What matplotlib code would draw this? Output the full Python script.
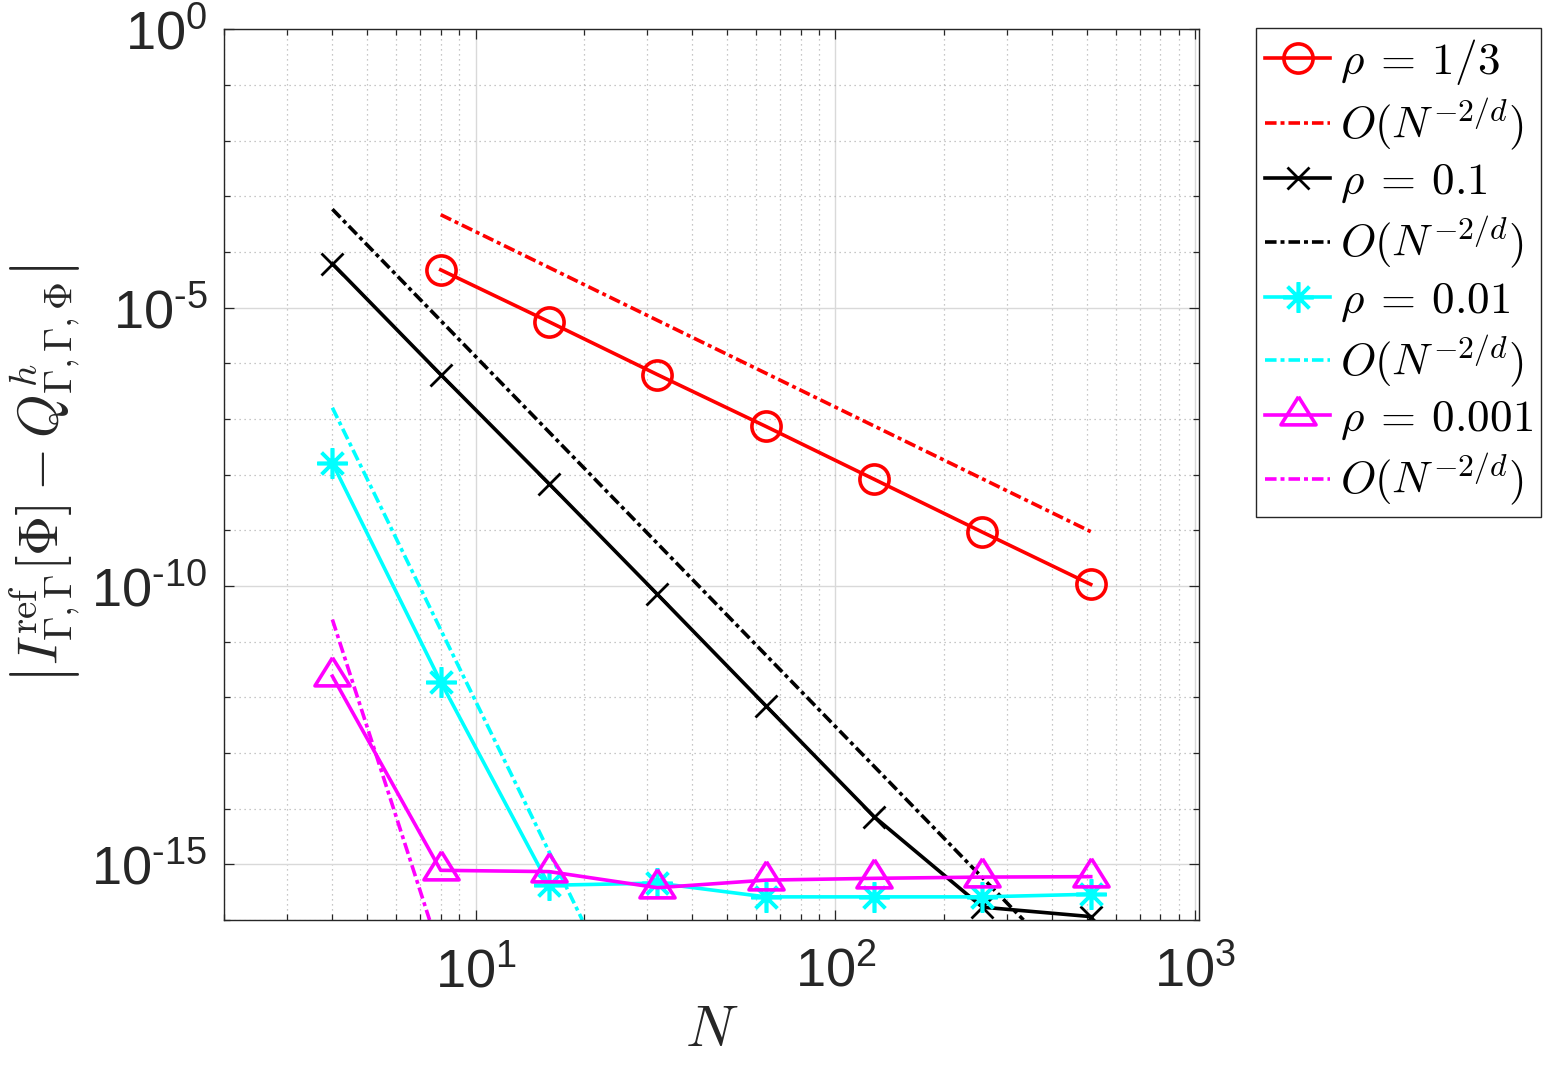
import numpy as np
import matplotlib
matplotlib.use('Agg')
import matplotlib.pyplot as plt
from matplotlib.font_manager import FontProperties
from matplotlib.ticker import FixedLocator, FixedFormatter, NullFormatter

plt.rcParams['font.family'] = ['Liberation Sans', 'DejaVu Sans']
plt.rcParams['mathtext.fontset'] = 'custom'
plt.rcParams['mathtext.rm'] = 'Liberation Sans'
plt.rcParams['mathtext.it'] = 'Liberation Sans:italic'
plt.rcParams['mathtext.bf'] = 'Liberation Sans:bold'

# data
N_all = [4, 8, 16, 32, 64, 128, 256, 512]
N_red = [8, 16, 32, 64, 128, 256, 512]

err_rho_third = [4.8e-5, 5.6e-6, 6.3e-7, 7.4e-8, 8.3e-9, 9.3e-10, 1.07e-10]
err_rho_01 = [6.2e-5, 6.3e-7, 6.9e-9, 7.1e-11, 7.1e-13, 7.2e-15, 1.7e-16, 1.15e-16]
err_rho_001 = [1.62e-8, 1.9e-12, 4.2e-16, 4.6e-16, 2.6e-16, 2.6e-16, 2.6e-16, 2.9e-16]
err_rho_0001 = [2.4e-12, 7.8e-16, 7.4e-16, 3.8e-16, 5.2e-16, 5.6e-16, 5.9e-16, 6.0e-16]

# reference rate lines (start / end points)
ref_red_N = [8, 512]
ref_red = [4.7e-4, 9.5e-10]
ref_black_N = [4, 333]
ref_black = [5.9e-4, 1e-16]
ref_cyan_N = [4, 19.8]
ref_cyan = [1.6e-7, 1e-16]
ref_mag_N = [4, 7.45]
ref_mag = [2.5e-11, 1e-16]

labels = [r'$\rho\:=\:1/3$', r'$O(N^{-2/d})$',
          r'$\rho\:=\:0.1$', r'$O(N^{-2/d})$',
          r'$\rho\:=\:0.01$', r'$O(N^{-2/d})$',
          r'$\rho\:=\:0.001$', r'$O(N^{-2/d})$']

fig = plt.figure(figsize=(15.43, 10.68), dpi=100)
ax = fig.add_axes([0.1452, 0.1386, 0.6319, 0.8338])

lw = 2.6
dd = (0, (3.2, 1.1, 1.1, 1.1))
tri = [(0, 1), (-0.936, -0.5), (0.936, -0.5), (0, 1)]
star = (8, 2, 0)

h = []
h += ax.plot(N_red, err_rho_third, '-', color='red', lw=lw, marker='o', ms=21,
             mfc='none', mew=lw)
h += ax.plot(ref_red_N, ref_red, color='red', lw=lw, ls=dd)
h += ax.plot(N_all, err_rho_01, '-', color='black', lw=lw, marker='x', ms=16,
             mew=2.0)
h += ax.plot(ref_black_N, ref_black, color='black', lw=lw, ls=dd)
h += ax.plot(N_all, err_rho_001, '-', color='cyan', lw=lw, marker=star, ms=22,
             mew=lw)
h += ax.plot(ref_cyan_N, ref_cyan, color='cyan', lw=lw, ls=dd)
h += ax.plot(N_all, err_rho_0001, '-', color='magenta', lw=lw, marker=tri, ms=27,
             mfc='none', mew=lw)
h += ax.plot(ref_mag_N, ref_mag, color='magenta', lw=lw, ls=dd)

ax.set_xscale('log')
ax.set_yscale('log')
ax.set_xlim(2, 1024)
ax.set_ylim(1e-16, 1)

ax.xaxis.set_major_locator(FixedLocator([10, 100, 1000]))
ax.xaxis.set_major_formatter(FixedFormatter([r'$10^{1}$', r'$10^{2}$', r'$10^{3}$']))
xminor = [k * 10.0 ** e for e in range(0, 3) for k in range(2, 10)]
ax.xaxis.set_minor_locator(FixedLocator(xminor))
ax.xaxis.set_minor_formatter(NullFormatter())

ax.yaxis.set_major_locator(FixedLocator([1e-15, 1e-10, 1e-5, 1]))
ax.yaxis.set_major_formatter(FixedFormatter([r'$10^{\text{-}15}$', r'$10^{\text{-}10}$',
                                             r'$10^{\text{-}5}$', r'$10^{0}$']))
ax.yaxis.set_minor_locator(FixedLocator([10.0 ** e for e in range(-16, 1)]))
ax.yaxis.set_minor_formatter(NullFormatter())

ax.grid(True, which='major', color='#d9d9d9', lw=1.0, ls='-')
ax.grid(True, which='minor', color='#b5b5b5', lw=0.9, ls=(0, (1, 3)))
ax.set_axisbelow(True)

ax.tick_params(which='both', direction='in', top=True, right=True,
               color='#262626', labelcolor='#262626', width=0.9)
ax.tick_params(which='major', length=7.2, labelsize=39)
ax.tick_params(which='minor', length=4.3)
ax.tick_params(axis='x', which='major', pad=19)
ax.tick_params(axis='y', which='major', pad=12)
for s in ax.spines.values():
    s.set_color('#262626')
    s.set_linewidth(1.0)

ax.set_xlabel(r'$N$', fontsize=42, math_fontfamily='cm', color='#262626', labelpad=4)
ax.set_ylabel(r'$\left|I^{\mathrm{ref}}_{\Gamma,\Gamma}[\Phi]-Q^{h}_{\Gamma,\Gamma,\Phi}\right|$',
              fontsize=40, math_fontfamily='cm', color='#262626', labelpad=6)

leg = ax.legend(h, labels, loc='upper left', bbox_to_anchor=(0.814, 0.974),
                bbox_transform=fig.transFigure,
                prop=FontProperties(size=32.5, math_fontfamily='cm'),
                frameon=True, fancybox=False, edgecolor='#262626', framealpha=1,
                handlelength=1.45, handletextpad=0.2, borderpad=0.2,
                labelspacing=0.2, borderaxespad=0)
leg.get_frame().set_linewidth(1.0)

fig.savefig('out.png', dpi=100)
